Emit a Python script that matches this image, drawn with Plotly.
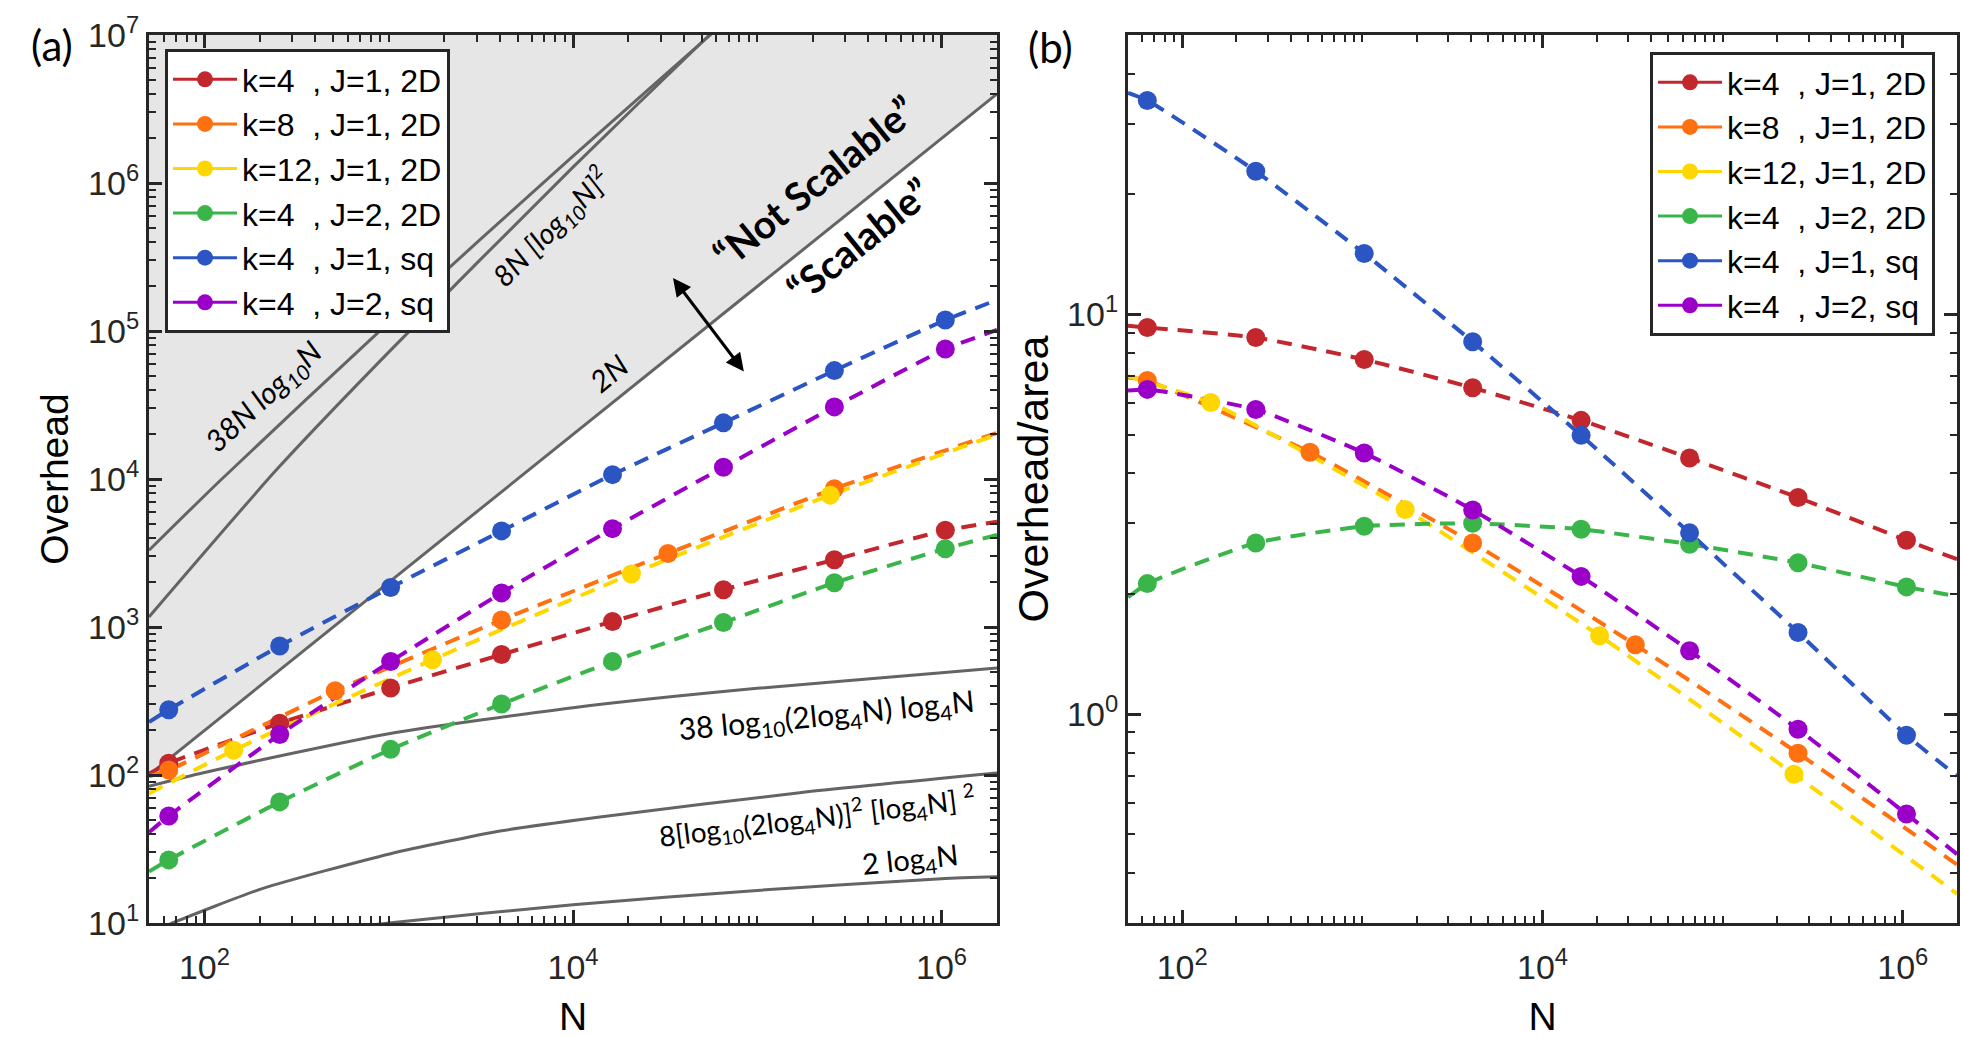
import math
import plotly.graph_objects as go
from plotly.subplots import make_subplots

# ---------------- data ----------------
n_k4 = [64, 256, 1024, 4096, 16384, 65536, 262144, 1048576]
n_k8 = [64, 512, 4096, 32768, 262144]
n_k12 = [144, 1728, 20736, 248832]
n_ends = [50, 2e6]          # where the dashed fits meet the frame

# (a) overhead
ov_k4_j1_2d = [120, 224, 387, 652, 1090, 1785, 2850, 4500]
ov_k8_j1_2d = [108, 371, 1115, 3140, 8600]
ov_k12_j1_2d = [147, 601, 2280, 7780]
ov_k4_j2_2d = [26.7, 65.8, 149, 302, 585, 1072, 1990, 3380]
ov_k4_j1_sq = [276, 745, 1850, 4460, 10700, 23950, 54000, 118600]
ov_k4_j2_sq = [52.8, 188, 585, 1700, 4620, 12000, 30700, 75500]
# dashed fit values at the left / right frame
ov_k4_j1_2d_ends = [102, 5140]
ov_k8_j1_2d_ends = [98, 20500]
ov_k12_j1_2d_ends = [75, 20000]
ov_k4_j2_2d_ends = [22.3, 4190]
ov_k4_j1_sq_ends = [228, 162000]
ov_k4_j2_sq_ends = [41, 101600]

# (b) overhead / area
ar_k4_j1_2d = [9.27, 8.75, 7.71, 6.55, 5.43, 4.37, 3.48, 2.72]
ar_k8_j1_2d = [6.83, 4.52, 2.68, 1.49, 0.798]
ar_k12_j1_2d = [6.02, 3.25, 1.57, 0.707]
ar_k4_j2_2d = [2.12, 2.68, 2.95, 3.0, 2.90, 2.66, 2.39, 2.08]
ar_k4_j1_sq = [34.3, 22.8, 14.2, 8.54, 4.98, 2.84, 1.60, 0.885]
ar_k4_j2_sq = [6.49, 5.78, 4.5, 3.24, 2.21, 1.44, 0.916, 0.562]
ar_k4_j1_2d_ends = [9.36, 2.44]
ar_k8_j1_2d_ends = [6.95, 0.42]
ar_k12_j1_2d_ends = [7.0, 0.355]
ar_k4_j2_2d_ends = [1.96, 1.97]
ar_k4_j1_sq_ends = [35.8, 0.70]
ar_k4_j2_sq_ends = [6.45, 0.446]

# reference scaling curves (gray)
n_2n = [50, 2e6]
y_2n = [100, 4e6]
n_38n = [50, 121, 1000, 10000, 50000, 80000]
y_38n = [3300, 9700, 114000, 1.52e6, 8.9e6, 1.5e7]
n_8n = [50, 250, 1000, 10000, 55000, 80000]
y_8n = [1170, 11800, 72000, 1.28e6, 1.0e7, 1.55e7]
n_38log = [50, 100, 1000, 10000, 100000, 1000000, 2e6]
y_38log = [84, 104, 190, 285, 385, 490, 528]
n_8log = [50, 67, 204, 1024, 4100, 14000, 170000, 2e6]
y_8log = [8.5, 10, 17, 29.4, 42, 52, 76, 103]
n_2log = [500, 1000, 10000, 100000, 1000000, 2e6]
y_2log = [9.0, 10.0, 13.3, 16.6, 19.9, 20.5]

# tick labels
x_ticks = [100, 1e4, 1e6]
x_ticktext = ["10<sup>2</sup>", "10<sup>4</sup>", "10<sup>6</sup>"]
ya_ticks = [10, 100, 1e3, 1e4, 1e5, 1e6, 1e7]
ya_ticktext = ["10<sup>%d</sup>" % k for k in range(1, 8)]
yb_ticks = [1, 10]
yb_ticktext = ["10<sup>0</sup>", "10<sup>1</sup>"]

labels = ["k=4\u00a0\u00a0, J=1, 2D", "k=8\u00a0\u00a0, J=1, 2D", "k=12, J=1, 2D",
          "k=4\u00a0\u00a0, J=2, 2D", "k=4\u00a0\u00a0, J=1, sq", "k=4\u00a0\u00a0, J=2, sq"]
colors = ["#c1272d", "#ff7010", "#ffd700", "#3ab54a", "#2a55c2", "#9a00c8"]

series = [
    (n_k4, ov_k4_j1_2d, ov_k4_j1_2d_ends, ar_k4_j1_2d, ar_k4_j1_2d_ends),
    (n_k8, ov_k8_j1_2d, ov_k8_j1_2d_ends, ar_k8_j1_2d, ar_k8_j1_2d_ends),
    (n_k12, ov_k12_j1_2d, ov_k12_j1_2d_ends, ar_k12_j1_2d, ar_k12_j1_2d_ends),
    (n_k4, ov_k4_j2_2d, ov_k4_j2_2d_ends, ar_k4_j2_2d, ar_k4_j2_2d_ends),
    (n_k4, ov_k4_j1_sq, ov_k4_j1_sq_ends, ar_k4_j1_sq, ar_k4_j1_sq_ends),
    (n_k4, ov_k4_j2_sq, ov_k4_j2_sq_ends, ar_k4_j2_sq, ar_k4_j2_sq_ends),
]

W, H = 1962, 1038
AX = "#262626"
GRAY = "#646464"
TXT = "Lato, Open Sans, sans-serif"
TICKFONT = "Liberation Sans, Arial, sans-serif"


def px(x):
    return x / W


def py(y):
    return 1 - y / H


fig = make_subplots(rows=1, cols=2)

# shaded "not scalable" region: between the top of the frame and 2N
fig.add_trace(go.Scatter(x=n_2n, y=[1e7, 1e7], mode="lines", line=dict(width=0),
                         showlegend=False, hoverinfo="skip"), row=1, col=1)
fig.add_trace(go.Scatter(x=n_2n, y=y_2n, mode="lines", fill="tonexty",
                         fillcolor="#e6e6e6", line=dict(color=GRAY, width=3),
                         showlegend=False), row=1, col=1)
for nn, yy in [(n_38n, y_38n), (n_8n, y_8n), (n_38log, y_38log), (n_8log, y_8log), (n_2log, y_2log)]:
    fig.add_trace(go.Scatter(x=nn, y=yy, mode="lines", line=dict(color=GRAY, width=3, shape="spline", smoothing=0.6),
                             showlegend=False), row=1, col=1)

for col in [1, 2]:
    for (nn, ov, ov_e, ar, ar_e), c in zip(series, colors):
        vals, ends = (ov, ov_e) if col == 1 else (ar, ar_e)
        fig.add_trace(go.Scatter(x=[n_ends[0]] + nn + [n_ends[1]],
                                 y=[ends[0]] + vals + [ends[1]],
                                 mode="lines",
                                 line=dict(color=c, width=4, dash="15px,10px", shape="spline", smoothing=0.5),
                                 showlegend=False), row=1, col=col)
    for (nn, ov, ov_e, ar, ar_e), c in zip(series, colors):
        vals = ov if col == 1 else ar
        fig.add_trace(go.Scatter(x=nn, y=vals, mode="markers",
                                 marker=dict(color=c, size=19),
                                 showlegend=False), row=1, col=col)
    # legend entries
    for lab, c in zip(labels, colors):
        fig.add_trace(go.Scatter(x=[None], y=[None], mode="lines+markers", name=lab,
                                 line=dict(color=c, width=3), marker=dict(color=c, size=18),
                                 legend="legend" if col == 1 else "legend2"), row=1, col=col)

axis_common = dict(type="log", showgrid=False, zeroline=False, showline=True, linewidth=3,
                   linecolor=AX, mirror="allticks", ticks="inside", ticklen=13, tickwidth=2.5,
                   tickcolor=AX, tickmode="array", automargin=False,
                   tickfont=dict(family=TICKFONT, size=34, color=AX),
                   minor=dict(ticks="inside", ticklen=7, tickwidth=2, tickcolor=AX, dtick="D1", showgrid=False))

fig.update_xaxes(**axis_common)
fig.update_yaxes(**axis_common)

title_font = dict(family=TICKFONT, size=39, color="black")
fig.update_xaxes(domain=[px(149), px(997)], range=[math.log10(50), math.log10(2e6)],
                 tickvals=x_ticks, ticktext=x_ticktext, ticklabelstandoff=12,
                 title=dict(text="N", font=title_font, standoff=27), row=1, col=1)
fig.update_xaxes(domain=[px(1128), px(1957)], range=[math.log10(50), math.log10(2e6)],
                 tickvals=x_ticks, ticktext=x_ticktext, ticklabelstandoff=12,
                 title=dict(text="N", font=title_font, standoff=27), row=1, col=2)
fig.update_yaxes(domain=[py(923), py(35)], range=[1, 7], tickvals=ya_ticks, ticktext=ya_ticktext,
                 title=dict(text="Overhead", font=title_font, standoff=8),
                 row=1, col=1)
fig.update_yaxes(domain=[py(923), py(35)], range=[math.log10(0.3), math.log10(50)],
                 tickvals=yb_ticks, ticktext=yb_ticktext,
                 title=dict(text="Overhead/area", font=dict(family=TICKFONT, size=43, color="black"),
                            standoff=6),
                 row=1, col=2)

legend_common = dict(bgcolor="white", bordercolor=AX, borderwidth=3, xanchor="left", yanchor="top",
                     font=dict(family=TICKFONT, size=32, color="black"), itemwidth=64,
                     traceorder="normal", tracegroupgap=0)
fig.update_layout(
    width=W, height=H, margin=dict(l=0, r=0, t=0, b=0),
    paper_bgcolor="white", plot_bgcolor="white",
    legend=dict(x=px(165), y=py(49), **legend_common),
    legend2=dict(x=px(1650), y=py(52), **legend_common),
)

ann = []


def note(text, x, y, angle=0, size=29, color="black"):
    ann.append(dict(text=text, x=px(x), y=py(y), xref="paper", yref="paper", showarrow=False,
                    textangle=angle, xanchor="center", yanchor="middle",
                    font=dict(family=TXT, size=size, color=color)))


note("(a)", 52, 45, size=42)
note("(b)", 1050, 47, size=42)
note("<i>38N log<sub>10</sub>N</i>", 264, 397, -43, size=30)
note("<i>8N [log<sub>10</sub>N]<sup>2</sup></i>", 551, 227, -45, size=29)
note("<i>2N</i>", 608, 373, -39, size=30)
note("<b>\u201cNot Scalable\u201d</b>", 814, 182, -39, size=39)
note("<b>\u201cScalable\u201d</b>", 859, 240, -39, size=39)
note("38 log<sub>10</sub>(2log<sub>4</sub>N) log<sub>4</sub>N", 826, 716, -5.5, size=30)
note("8[log<sub>10</sub>(2log<sub>4</sub>N)]<sup>2</sup> [log<sub>4</sub>N] <sup>2</sup>", 817, 817, -7, size=28)
note("2 log<sub>4</sub>N", 910, 860, -6, size=29)

ann.append(dict(x=px(673), y=py(278), xref="paper", yref="paper", ax=72, ay=95, text="",
                showarrow=True, arrowhead=2, arrowside="end+start", arrowsize=1.2, arrowwidth=3,
                arrowcolor="black"))
fig.update_layout(annotations=ann)

# the page body has a default margin; drop it so the figure sits at 0,0
fig.write_html("out.html", config={"displayModeBar": False},
               post_script="document.body.style.margin='0px';")
